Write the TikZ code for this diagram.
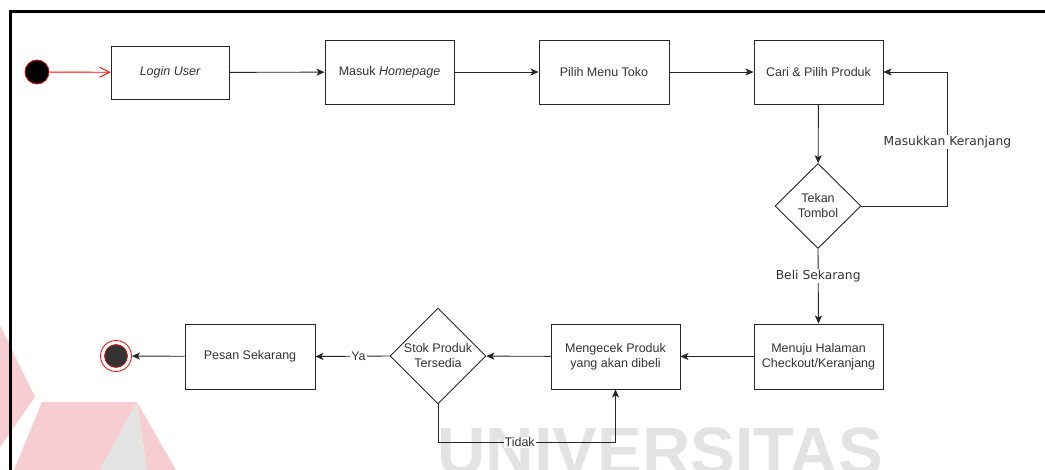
\documentclass[tikz,border=0pt]{standalone}
\usepackage{fontspec}
\setmainfont{Liberation Sans}
\newfontfamily\labelfont{DejaVu Sans}
\usetikzlibrary{shapes.geometric,arrows.meta}
\definecolor{ink}{HTML}{333333}
\definecolor{wmgray}{HTML}{E3E3E3}
\definecolor{wmpink}{HTML}{F6CDD0}
\tikzset{
  actbox/.style={draw=black!85, line width=0.9pt, rectangle, align=center,
    text=ink, font=\fontsize{12.5}{15}\selectfont, inner sep=0pt},
  decision/.style={draw=black!85, line width=0.9pt, diamond, aspect=1,
    inner sep=0pt, align=center, text=ink, font=\fontsize{12.5}{15}\selectfont},
  flow/.style={draw=black!85, line width=0.9pt,
    -{Stealth[length=8pt,width=7pt,inset=2pt]}},
  edgelabel/.style={fill=white, text=ink, inner sep=1pt,
    font=\labelfont\fontsize{12.3}{14}\selectfont},
  ylabel/.style={fill=white, text=ink, inner sep=1pt,
    font=\fontsize{12.5}{14}\selectfont},
}
\begin{document}
\begin{tikzpicture}[x=1pt,y=-1pt]
\useasboundingbox (0,0) rectangle (1045,470);
\fill[white] (0,0) rectangle (1045,470);

% faint logo and lettering in the background
\fill[wmpink] (0,325) -- (35,397) -- (0,447) -- cycle;
\fill[wmpink] (42,402) -- (137,402) -- (100,470) -- (14,470) -- cycle;
\fill[wmpink] (137,402) -- (176,470) -- (147,470) -- cycle;
\fill[wmgray] (137,402) -- (147,470) -- (100,470) -- cycle;
\node[anchor=north, inner sep=0pt, text=wmgray,
  font=\bfseries\fontsize{67}{70}\selectfont] (wm) at (660,428) {UNIVERSITAS};

% frame
\draw[black, line width=3pt] (10,480) -- (10,11.5) -- (1050,11.5);

% activities
\node[actbox, minimum width=118pt, minimum height=53pt] (login) at (170,72.5) {\itshape Login User};
\node[actbox, minimum width=129pt, minimum height=64pt] (masuk) at (389.5,72) {Masuk \textit{Homepage}};
\node[actbox, minimum width=130pt, minimum height=64pt] (pilih) at (604,72) {Pilih Menu Toko};
\node[actbox, minimum width=129pt, minimum height=64pt] (cari) at (818.5,72) {Cari \& Pilih Produk};
\node[decision, minimum width=86pt, minimum height=85pt] (tekan) at (818,206)
  {\makebox[0pt]{Tekan}\\\makebox[0pt]{Tombol}};
\node[actbox, minimum width=129pt, minimum height=65pt] (menuju) at (818.5,356.5)
  {Menuju Halaman\\Checkout/Keranjang};
\node[actbox, minimum width=129pt, minimum height=65pt] (cek) at (615.5,356.5)
  {Mengecek Produk\\yang akan dibeli};
\node[decision, minimum width=96pt, minimum height=96pt] (stok) at (438,356)
  {\makebox[0pt]{Stok Produk}\\\makebox[0pt]{Tersedia}};
\node[actbox, minimum width=130pt, minimum height=65pt] (pesan) at (250,356.5) {Pesan Sekarang};

% start and end states
\node[circle, fill=black, draw=red, line width=0.8pt, minimum size=24pt, inner sep=0pt] (start) at (37,72) {};
\node[circle, draw=red, line width=0.8pt, minimum size=31pt, inner sep=0pt] (end) at (116,356) {};
\node[circle, fill=ink, draw=red, line width=0.6pt, minimum size=23pt, inner sep=0pt] (endcore) at (116,356) {};

% connectors
\draw[red, line width=0.9pt, -{Straight Barb[length=10pt,width=10pt]}] (start) -- (login);
\draw[flow] (login) -- (masuk);
\draw[flow] (masuk) -- (pilih);
\draw[flow] (pilih) -- (cari);
\draw[flow] (cari) -- (tekan);
\draw[flow] (tekan.east) -- ++(86,0) |- (cari.east)
  node[edgelabel, pos=0.24] (lkeranjang) {Masukkan Keranjang};
\draw[flow] (tekan.south) -- (menuju.north)
  node[edgelabel, pos=0.36] (lbeli) {Beli Sekarang};
\draw[flow] (menuju) -- (cek);
\draw[flow] (cek) -- (stok);
\draw[flow] (stok.west) -- (pesan.east)
  node[ylabel, pos=0.42] (lya) {Ya};
\draw[flow] (pesan) -- (end);
\draw[flow] (stok.south) -- ++(0,38) -| (cek.south)
  node[ylabel, pos=0.23] (ltidak) {Tidak};
\end{tikzpicture}
\end{document}
